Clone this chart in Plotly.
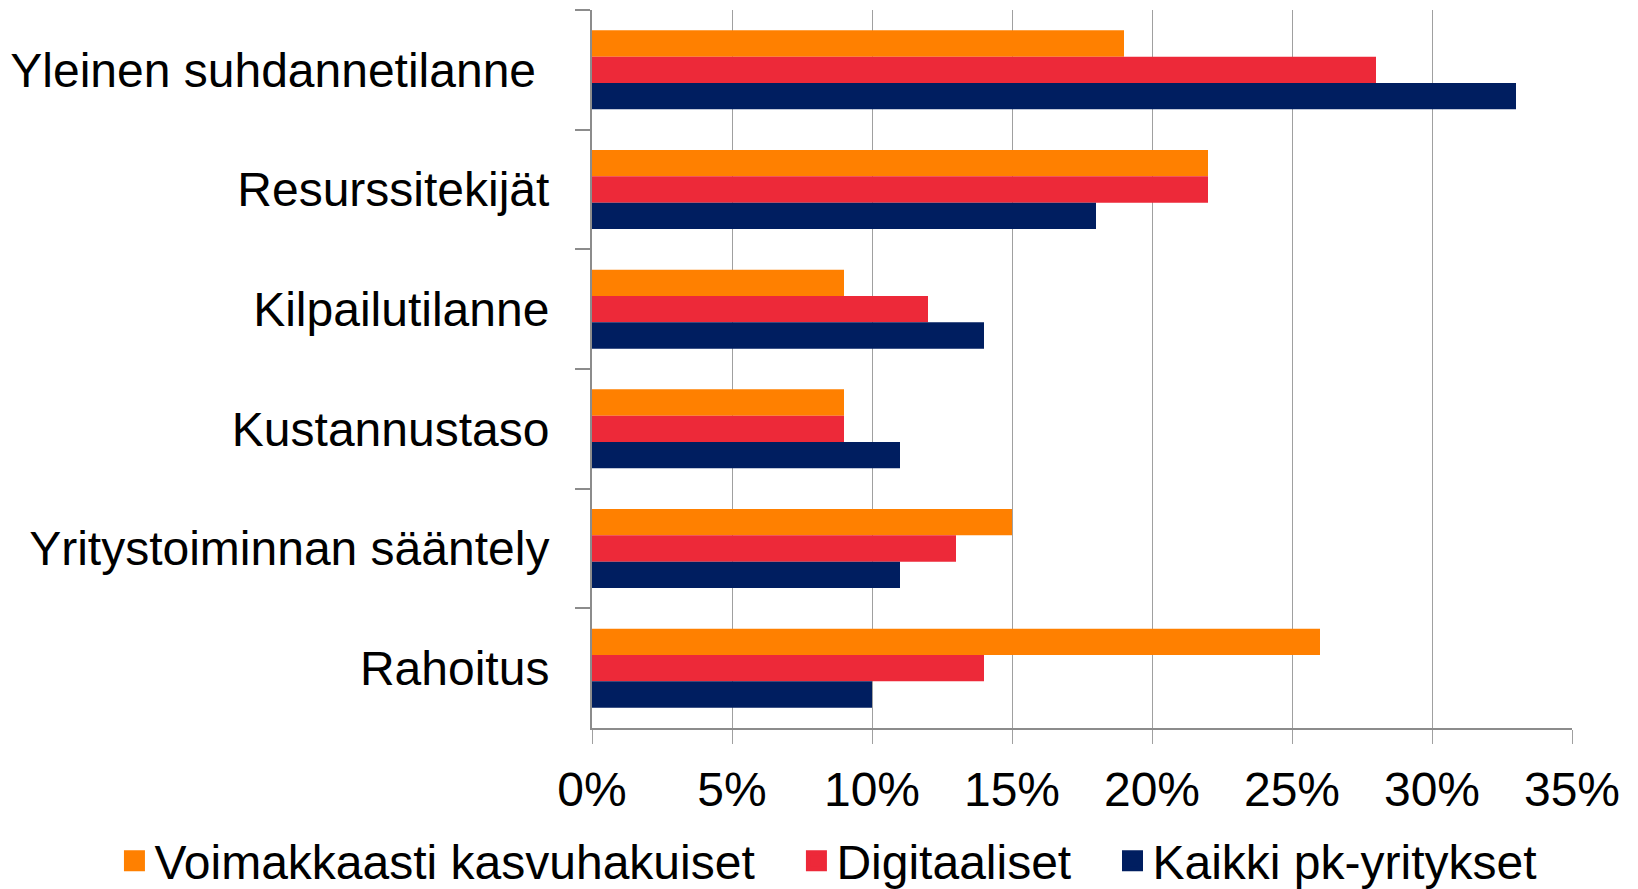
import plotly.graph_objects as go

categories = ["Yleinen suhdannetilanne ", "Resurssitekijät", "Kilpailutilanne",
              "Kustannustaso", "Yritystoiminnan sääntely", "Rahoitus"]
series_names = ["Voimakkaasti kasvuhakuiset", "Digitaaliset", "Kaikki pk-yritykset"]
voimakkaasti = [0.19, 0.22, 0.09, 0.09, 0.15, 0.26]
digitaaliset = [0.28, 0.22, 0.12, 0.09, 0.13, 0.14]
kaikki = [0.33, 0.18, 0.14, 0.11, 0.11, 0.10]
colors = ["#FF8000", "#ED2939", "#001E60"]
x_ticks = [0, 0.05, 0.10, 0.15, 0.20, 0.25, 0.30, 0.35]
x_tick_labels = ["0%", "5%", "10%", "15%", "20%", "25%", "30%", "35%"]

FONT = "Liberation Sans, Arial, sans-serif"
FS = 48
legend_ids = ["legend", "legend2", "legend3"]
legend_x = [-0.4873, 0.2086, 0.5311]

fig = go.Figure()
for name, vals, col in zip(series_names, [voimakkaasti, digitaaliset, kaikki], colors):
    fig.add_trace(go.Bar(
        y=categories, x=vals, name=name, orientation="h",
        marker=dict(color=col, line=dict(width=0)), showlegend=False,
    ))
# legend entries with larger square swatches
for name, col, lid in zip(series_names, colors, legend_ids):
    fig.add_trace(go.Scatter(
        x=[None], y=[None], mode="markers", name=name, legend=lid,
        marker=dict(symbol="square", size=16, color=col,
                    line=dict(color=col, width=5)),
        showlegend=True,
    ))

legend_common = dict(
    orientation="h", yref="container", y=1 - 861 / 889, yanchor="middle",
    xanchor="left", font=dict(family=FONT, size=FS, color="black"),
    bgcolor="rgba(0,0,0,0)", borderwidth=0,
)

fig.update_layout(
    width=1638, height=889,
    margin=dict(l=592, r=66, t=10, b=161, autoexpand=False),
    paper_bgcolor="white", plot_bgcolor="white",
    barmode="group", bargap=0.34, bargroupgap=0,
    font=dict(family=FONT, size=FS, color="black"),
    showlegend=True,
    legend=dict(x=legend_x[0], **legend_common),
    legend2=dict(x=legend_x[1], **legend_common),
    legend3=dict(x=legend_x[2], **legend_common),
    xaxis=dict(
        range=[0, 0.35], tickvals=x_ticks, ticktext=x_tick_labels,
        showgrid=True, gridcolor="#A0A0A0", gridwidth=1,
        showline=True, linecolor="#8C8C8C", linewidth=2,
        ticks="outside", ticklen=14, tickcolor="#A0A0A0", tickwidth=1,
        zeroline=False, ticklabelstandoff=4, automargin=False,
        tickfont=dict(family=FONT, size=FS, color="black"),
        fixedrange=True,
    ),
    yaxis=dict(
        type="category", autorange="reversed", tickson="boundaries",
        showgrid=False, showline=True, linecolor="#8C8C8C", linewidth=2,
        ticks="outside", ticklen=15, tickcolor="#8C8C8C", tickwidth=2,
        ticklabelstandoff=31, automargin=False,
        tickfont=dict(family=FONT, size=FS, color="black"),
        fixedrange=True,
    ),
)

fig.write_html("out.html", config={"displayModeBar": False},
               post_script="document.body.style.margin='0';")
